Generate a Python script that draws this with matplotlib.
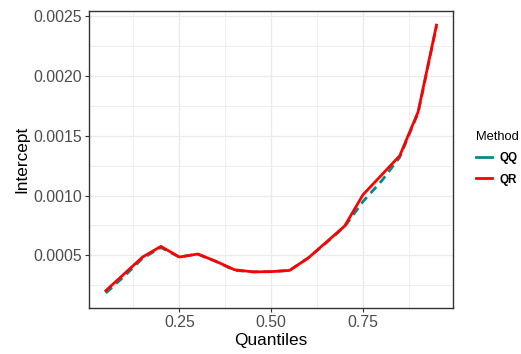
import numpy as np
import matplotlib
matplotlib.use("Agg")
import matplotlib.pyplot as plt
from matplotlib.ticker import MultipleLocator
from matplotlib.lines import Line2D

plt.rcParams['font.family'] = ['Liberation Sans', 'DejaVu Sans']

quantiles = [0.05, 0.10, 0.15, 0.20, 0.25, 0.30, 0.35, 0.40, 0.45, 0.50,
             0.55, 0.60, 0.65, 0.70, 0.75, 0.80, 0.85, 0.90, 0.95]
qr_vals = [0.000205, 0.000345, 0.000486, 0.000575, 0.000486, 0.000511, 0.000450,
           0.000380, 0.000362, 0.000364, 0.000374, 0.000476, 0.000610, 0.000745,
           0.001007, 0.001170, 0.001333, 0.001700, 0.002425]
qq_vals = [0.000185, 0.000325, 0.000475, 0.000565, 0.000486, 0.000511, 0.000448,
           0.000375, 0.000362, 0.000364, 0.000374, 0.000476, 0.000605, 0.000740,
           0.000950, 0.001120, 0.001320, 0.001690, 0.002415]
methods = ["QQ", "QR"]
colors = ["#008B8B", "#FF0000"]

fig = plt.figure(figsize=(5.21, 3.54), dpi=100)
ax = fig.add_axes([0.1714, 0.130, 0.6981, 0.8379])

ax.plot(quantiles, qq_vals, color=colors[0], lw=2.0, ls=(0, (3, 2)))
ax.plot(quantiles, qr_vals, color=colors[1], lw=2.0)

ax.set_xlim(0.005, 0.995)
ax.set_ylim(0.00006, 0.00254)
ax.xaxis.set_minor_locator(MultipleLocator(0.125))
ax.yaxis.set_minor_locator(MultipleLocator(0.00025))
ax.set_xticks([0.25, 0.5, 0.75])
ax.set_xticklabels(["0.25", "0.50", "0.75"])
yt = [0.0005, 0.0010, 0.0015, 0.0020, 0.0025]
ax.set_yticks(yt)
ax.set_yticklabels([f"{v:.4f}" for v in yt])

ax.grid(which="major", color="#EBEBEB", lw=1.0)
ax.grid(which="minor", color="#EBEBEB", lw=0.6)
ax.set_axisbelow(True)
for s in ax.spines.values():
    s.set_color("#333333")
    s.set_linewidth(1.0)
ax.tick_params(which="major", length=3, color="#333333", labelsize=11.4, labelcolor="#4D4D4D", pad=2)
ax.tick_params(which="minor", length=0)

ax.set_xlabel("Quantiles", fontsize=12.4, labelpad=2)
ax.set_ylabel("Intercept", fontsize=12.4, labelpad=3)

# legend keys are drawn solid, as in the original
handles = [Line2D([], [], color=c, lw=2.0) for c in colors]
leg = ax.legend(handles, methods, loc="center left", bbox_to_anchor=(0.893, 0.553),
                bbox_transform=fig.transFigure, frameon=False, title="Method",
                fontsize=8.4, title_fontsize=9.3,
                handlelength=1.4, handletextpad=0.6, labelspacing=0.8)
leg._legend_box.align = "left"
for t in leg.get_texts():
    t.set_fontweight("bold")

fig.savefig("out.png", dpi=100)
